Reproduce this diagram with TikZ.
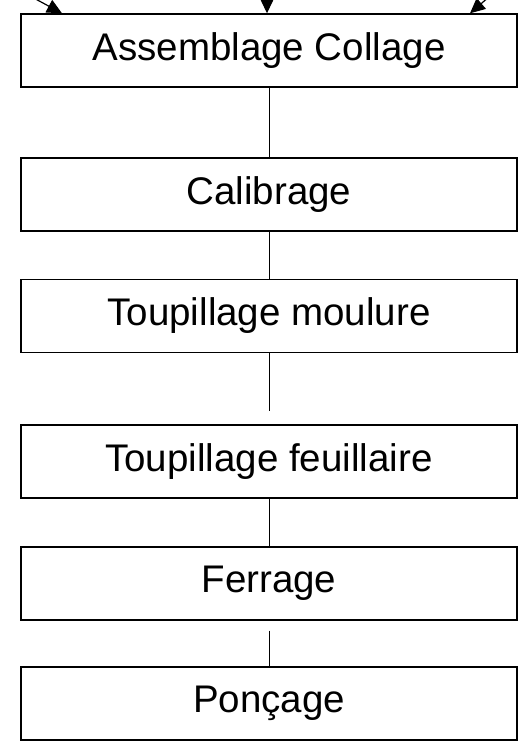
\documentclass[tikz,border=0pt]{standalone}
\usepackage{fontspec}
\setmainfont{Liberation Sans}
\usepackage{tikz}
\usetikzlibrary{arrows.meta}

\begin{document}
\begin{tikzpicture}[x=1pt,y=1pt]
		\useasboundingbox (0,0) rectangle (524,-741);

		\begin{scope}[every node/.style={rectangle,draw,line width=1.4pt,
					  minimum width=496pt,minimum height=73pt,inner sep=0pt,
					  font=\fontsize{38.5}{44}\selectfont}]
			\node (assemblage) at (269,-50.5) {Assemblage Collage};
			\node (calibrage) at (269,-194.5) {Calibrage};
			\node (moulure) at (269,-316) {Toupillage moulure};
			\node (feuillaire) at (269,-461.5) {Toupillage feuillaire};
			\node (ferrage) at (269,-583.5) {Ferrage};
			\node (poncage) at (269,-703.5) {Ponçage};
		\end{scope}

		\coordinate (inL) at (30,4);
		\coordinate (inM) at (267,4);
		\coordinate (inR) at (490,4);

		\begin{scope}[line width=1.2pt,>={Triangle[length=15pt,width=14pt]}]
			\draw [->] (inL) -- ([xshift=-207pt]assemblage.north);
			\draw [->] (inM) -- ([xshift=-2pt]assemblage.north);
			\draw [->] (inR) -- ([xshift=201pt]assemblage.north);
		\end{scope}

		\begin{scope}[every edge/.style={draw=black,line width=0.9pt}]
			\path (assemblage) edge (calibrage);
			\path (calibrage) edge (moulure);
			\path [shorten >=13pt] (moulure) edge (feuillaire);
			\path (feuillaire) edge (ferrage);
			\path [shorten <=10pt] (ferrage) edge (poncage);
		\end{scope}
\end{tikzpicture}
\end{document}
